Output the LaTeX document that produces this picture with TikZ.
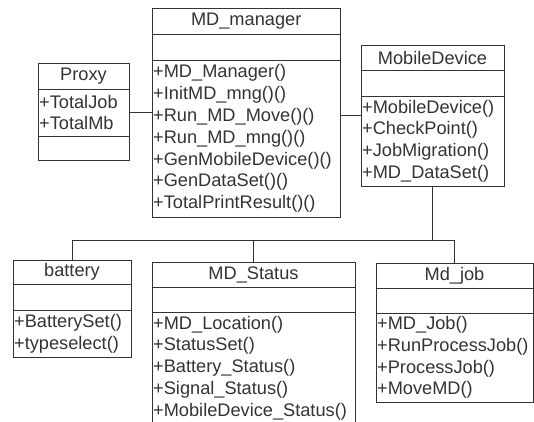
\documentclass[tikz,border=0pt]{standalone}
\usepackage{fontspec}
\setmainfont{Liberation Sans}
\begin{document}
\begin{tikzpicture}[x=1pt,y=-1pt,
  part/.style={draw=black!80, line width=0.9pt, rectangle, inner xsep=1.2pt, inner ysep=0pt, outer sep=0pt,
    anchor=north west, text=black!80, font=\fontsize{18.2}{21.8}\selectfont, align=left},
  ttl/.style={part, align=center},
  conn/.style={draw=black!80, line width=0.9pt}]
\useasboundingbox (0,0) rectangle (534,421);
\clip (0,0) rectangle (534,421);
% MD_manager
\node[ttl, text width=186pt, minimum height=26pt] (mgr-t) at (152,8) {MD\_manager};
\node[part, text width=186pt, minimum height=26pt] (mgr-a) at (152,34) {};
\node[part, text width=186pt, minimum height=157pt] (mgr-m) at (152,60)
  {+MD\_Manager()\\+InitMD\_mng()()\\+Run\_MD\_Move()()\\+Run\_MD\_mng()()\\+GenMobileDevice()()\\+GenDataSet()()\\+TotalPrintResult()()};
% Proxy
\node[ttl, text width=88.6pt, minimum height=26pt] (prx-t) at (38,63) {Proxy};
\node[part, text width=88.6pt, minimum height=47pt] (prx-a) at (38,89) {+TotalJob\\+TotalMb};
\node[part, text width=88.6pt, minimum height=24pt] (prx-m) at (38,136) {};
% MobileDevice
\node[ttl, text width=140.6pt, minimum height=25pt] (mob-t) at (361,45) {MobileDevice};
\node[part, text width=140.6pt, minimum height=26pt] (mob-a) at (361,70) {};
\node[part, text width=140.6pt, minimum height=90pt] (mob-m) at (361,96)
  {+MobileDevice()\\+CheckPoint()\\+JobMigration()\\+MD\_DataSet()};
% battery
\node[ttl, text width=115.6pt, minimum height=24pt] (bat-t) at (13,260) {battery};
\node[part, text width=115.6pt, minimum height=26pt] (bat-a) at (13,284) {};
\node[part, text width=115.6pt, minimum height=47pt] (bat-m) at (13,310)
  {+BatterySet()\\+typeselect()};
% MD_Status
\node[ttl, text width=200.6pt, minimum height=25pt] (sta-t) at (152,262) {MD\_Status};
\node[part, text width=200.6pt, minimum height=25pt] (sta-a) at (152,287) {};
\node[part, text width=200.6pt, minimum height=112pt] (sta-m) at (152,312)
  {+MD\_Location()\\+StatusSet()\\+Battery\_Status()\\+Signal\_Status()\\+MobileDevice\_Status()};
% Md_job
\node[ttl, text width=154.6pt, minimum height=25pt] (job-t) at (376,263) {Md\_job};
\node[part, text width=154.6pt, minimum height=25pt] (job-a) at (376,288) {};
\node[part, text width=154.6pt, minimum height=89pt] (job-m) at (376,313)
  {+MD\_Job()\\+RunProcessJob()\\+ProcessJob()\\+MoveMD()};
% connectors
\coordinate (lnk) at (0,115);
\coordinate (bus) at (0,240);
\draw[conn] (prx-a.east) -- (mgr-m.west |- prx-a.east);
\draw[conn] (mgr-m.east |- lnk) -- (mob-m.west |- lnk);
\draw[conn] (mob-m.south) -- (mob-m.south |- bus);
\draw[conn] (bat-t.north) |- (job-t.north |- bus) -- (job-t.north);
\draw[conn] (sta-t.north) -- (sta-t.north |- bus);
\end{tikzpicture}
\end{document}
